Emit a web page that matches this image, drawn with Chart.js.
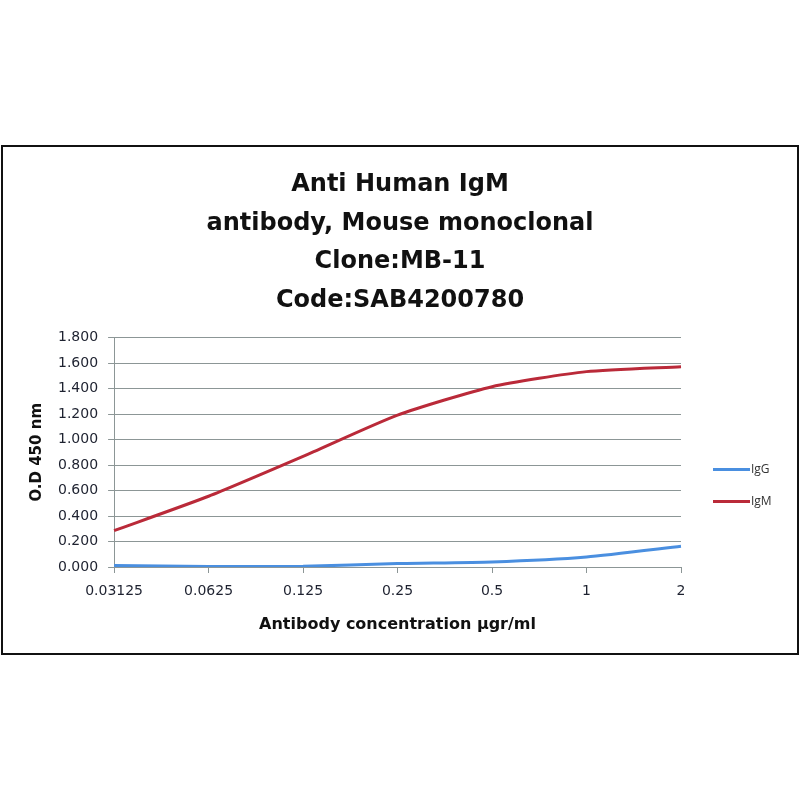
<!DOCTYPE html>
<html>
<head>
<meta charset="utf-8">
<script src="https://cdn.jsdelivr.net/npm/chart.js@4"></script>
<style>
  body { margin: 0; background: #fff; }
  #wrap { position: relative; width: 800px; height: 800px; }
  #frame { position: absolute; left: 1px; top: 145px; width: 794px; height: 506px; border: 2px solid #111; }
  canvas { position: absolute; left: 0; top: 0; }
</style>
</head>
<body>
<div id="wrap">
  <div id="frame"></div>
  <canvas id="chart" width="800" height="800"></canvas>
</div>
<script>
// concentrations (µgr/ml) used as category labels
const concentrations = ["0.03125", "0.0625", "0.125", "0.25", "0.5", "1", "2"];

// O.D 450 nm readings
const igG = [0.011, 0.004, 0.005, 0.027, 0.040, 0.079, 0.163];
const igM = [0.285, 0.555, 0.868, 1.192, 1.415, 1.533, 1.572];

const titleLines = ["Anti Human IgM", "antibody, Mouse monoclonal", "Clone:MB-11", "Code:SAB4200780"];

const FONT = "'DejaVu Sans', sans-serif";
const LEGEND_FONT = "'Open Sans', sans-serif";

// simple legend drawn to the right of the plot, like the Excel original
const sideLegend = {
    id: "sideLegend",
    afterDraw(chart) {
        const ctx = chart.ctx;
        const area = chart.chartArea;
        const x0 = area.right + 32;
        let y = area.top + 132;
        chart.data.datasets.forEach(ds => {
            ctx.save();
            ctx.strokeStyle = ds.borderColor;
            ctx.lineWidth = 3;
            ctx.beginPath();
            ctx.moveTo(x0, y);
            ctx.lineTo(x0 + 37, y);
            ctx.stroke();
            ctx.fillStyle = "#333";
            ctx.font = "12px " + LEGEND_FONT;
            ctx.textBaseline = "middle";
            ctx.fillText(ds.label, x0 + 38, y);
            ctx.restore();
            y += 32;
        });
    }
};

new Chart(document.getElementById("chart"), {
    type: "line",
    data: {
        labels: concentrations,
        datasets: [
            {
                label: "IgG",
                data: igG,
                borderColor: "#4A8FE0",
                borderWidth: 3,
                pointRadius: 0,
                tension: 0.2,
                fill: false,
                yAxisID: "y"
            },
            {
                label: "IgM",
                data: igM,
                borderColor: "#BA2A39",
                borderWidth: 3,
                pointRadius: 0,
                tension: 0.2,
                fill: false,
                yAxisID: "y"
            }
        ]
    },
    options: {
        responsive: false,
        animation: false,
        layout: { padding: { top: 166, left: 28, right: 28, bottom: 166 } },
        plugins: {
            legend: { display: false },
            tooltip: { enabled: false },
            title: {
                display: true,
                text: titleLines,
                color: "#111",
                font: { family: FONT, size: 24, weight: "bold", lineHeight: 1.6 },
                padding: { top: 0, bottom: 18 }
            }
        },
        scales: {
            x: {
                offset: false,
                grid: { drawOnChartArea: false, color: "#8C9696", tickLength: 6 },
                border: { color: "#8C9696" },
                ticks: { color: "#1e2230", font: { family: FONT, size: 14 }, padding: 10, maxRotation: 0 },
                title: {
                    display: true,
                    text: "Antibody concentration µgr/ml",
                    color: "#111",
                    font: { family: FONT, size: 16, weight: "bold" },
                    padding: { top: 5, bottom: 0 }
                }
            },
            y: {
                min: 0,
                max: 1.8,
                grid: { color: "#8C9696", tickLength: 6 },
                border: { color: "#8C9696" },
                ticks: {
                    stepSize: 0.2,
                    color: "#1e2230",
                    font: { family: FONT, size: 14 },
                    padding: 10,
                    callback: v => v.toFixed(3)
                },
                title: {
                    display: true,
                    text: "O.D 450 nm",
                    color: "#111",
                    font: { family: FONT, size: 15, weight: "bold" },
                    padding: { top: 0, bottom: 2 }
                }
            },
            // empty strip on the right that leaves room for the legend
            side: {
                axis: "y",
                position: "right",
                display: true,
                grid: { display: false },
                border: { display: false },
                ticks: { display: false },
                afterFit: scale => { scale.width = 91; }
            }
        }
    },
    plugins: [sideLegend]
});
</script>
</body>
</html>
